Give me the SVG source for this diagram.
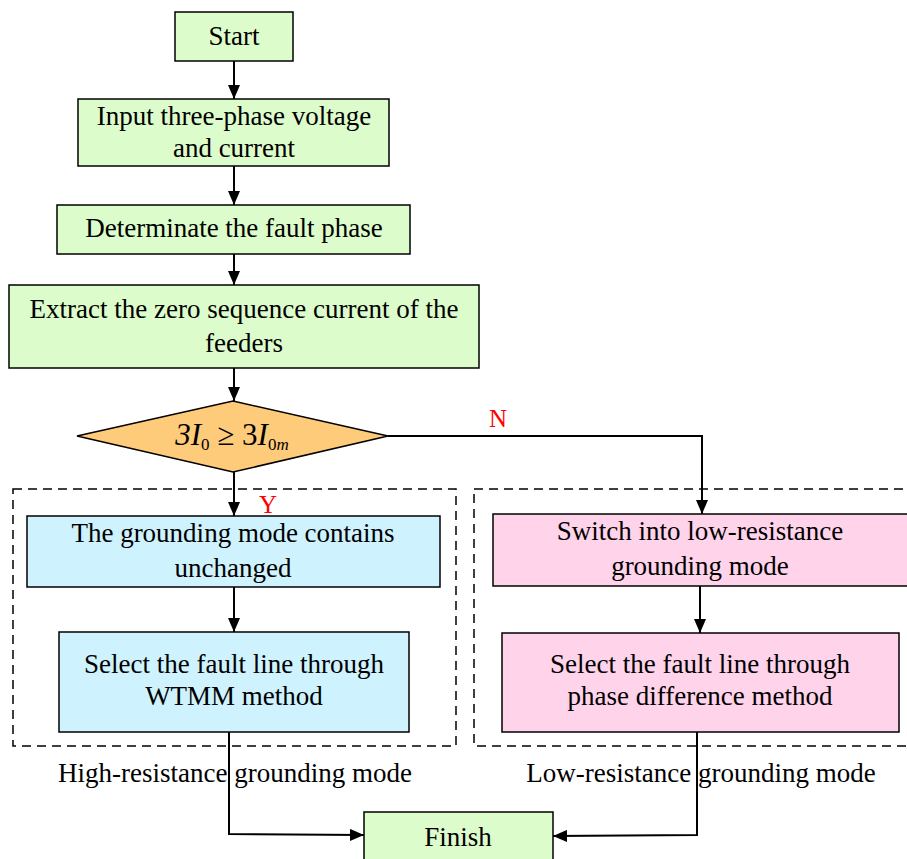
<svg xmlns="http://www.w3.org/2000/svg" width="907" height="859" viewBox="0 0 907 859">
<style>
text{font-family:"Liberation Serif","Times New Roman",serif;font-size:27px;fill:#000;text-anchor:middle}
.g{fill:#ddfccc;stroke:#000;stroke-width:1.5}
.b{fill:#cef2fe;stroke:#000;stroke-width:1.5}
.p{fill:#ffd3ea;stroke:#000;stroke-width:1.5}
.d{fill:#fecb7a;stroke:#000;stroke-width:1.5}
.c{fill:none;stroke:#000;stroke-width:2}
.dash{fill:none;stroke:#000;stroke-width:1.5;stroke-dasharray:9,6}
.r{fill:#ff0000;font-size:25px}
</style>
<defs>
<marker id="a" viewBox="0 0 14 12" refX="14" refY="6" markerWidth="14" markerHeight="12" markerUnits="userSpaceOnUse" orient="auto"><path d="M0,0 L14,6 L0,12 z" fill="#000"/></marker>
</defs>
<g id="groups">
<rect class="dash" x="13" y="489" width="443" height="257"/>
<rect class="dash" x="474" y="489" width="440" height="257"/>
<text x="235" y="782">High-resistance grounding mode</text>
<text x="701" y="782">Low-resistance grounding mode</text>
</g>
<g id="connectors">
<line class="c" x1="234" y1="61" x2="234" y2="99" marker-end="url(#a)"/>
<line class="c" x1="234" y1="166" x2="234" y2="205" marker-end="url(#a)"/>
<line class="c" x1="234" y1="254" x2="234" y2="285" marker-end="url(#a)"/>
<line class="c" x1="234" y1="368" x2="234" y2="401" marker-end="url(#a)"/>
<line class="c" x1="234" y1="472" x2="234" y2="516" marker-end="url(#a)"/>
<polyline class="c" points="388,436 702,436 702,514" marker-end="url(#a)"/>
<line class="c" x1="234" y1="587" x2="234" y2="632" marker-end="url(#a)"/>
<line class="c" x1="700" y1="586" x2="700" y2="633" marker-end="url(#a)"/>
<polyline class="c" points="229,732 229,834 364,835" marker-end="url(#a)"/>
<polyline class="c" points="697,732 697,835 553,836" marker-end="url(#a)"/>
<text class="r" x="498" y="427">N</text>
<text class="r" x="268" y="513">Y</text>
</g>
<g id="start"><rect class="g" x="175" y="12" width="118" height="49"/><text x="234" y="45">Start</text></g>
<g id="input"><rect class="g" x="78" y="99" width="311" height="67"/><text x="234" y="125">Input three-phase voltage</text><text x="234" y="157">and current</text></g>
<g id="determinate"><rect class="g" x="57" y="205" width="353" height="49"/><text x="234" y="237">Determinate the fault phase</text></g>
<g id="extract"><rect class="g" x="9" y="285" width="470" height="83"/><text x="244" y="318">Extract the zero sequence current of the</text><text x="244" y="352">feeders</text></g>
<g id="decision"><polygon class="d" points="77,436 233,401 388,436 233,472"/><text x="232" y="445" style="font-style:italic;font-size:31px">3<tspan>I</tspan><tspan font-size="17" font-style="normal" dy="5">0</tspan><tspan dy="-5" font-style="normal"> ≥ 3</tspan>I<tspan font-size="17" dy="5"><tspan font-style="normal">0</tspan>m</tspan></text></g>
<g id="unchanged"><rect class="b" x="27" y="516" width="413" height="71"/><text x="233" y="542">The grounding mode contains</text><text x="233" y="577">unchanged</text></g>
<g id="wtmm"><rect class="b" x="59" y="632" width="350" height="100"/><text x="234" y="673">Select the fault line through</text><text x="234" y="705">WTMM method</text></g>
<g id="switch"><rect class="p" x="493" y="514" width="420" height="72"/><text x="700" y="540">Switch into low-resistance</text><text x="700" y="575">grounding mode</text></g>
<g id="phasediff"><rect class="p" x="502" y="633" width="397" height="99"/><text x="700" y="673">Select the fault line through</text><text x="700" y="705">phase difference method</text></g>
<g id="finish"><rect class="g" x="364" y="812" width="189" height="60"/><text x="458" y="846">Finish</text></g>
</svg>
